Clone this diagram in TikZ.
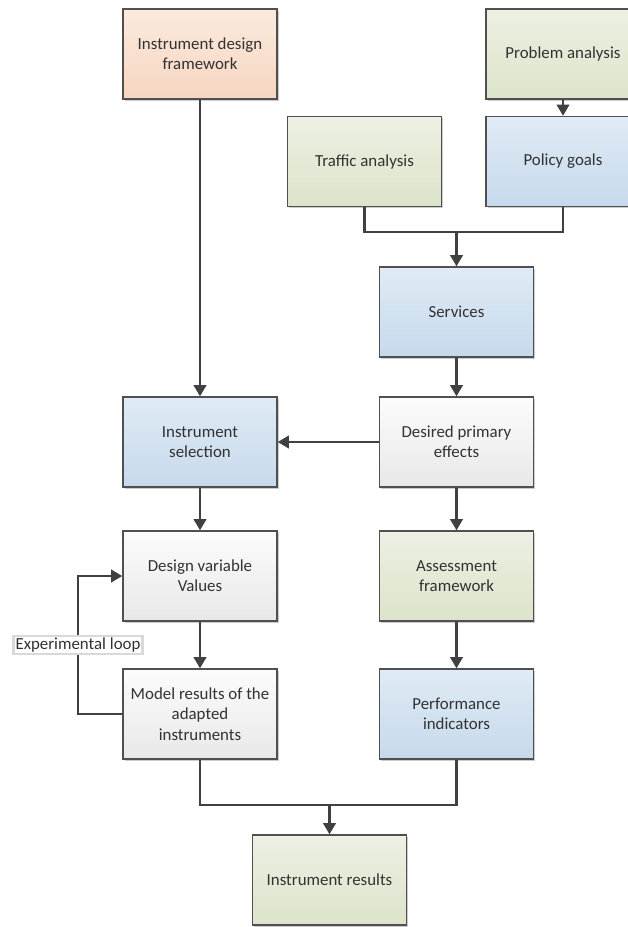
\documentclass[tikz,border=0pt]{standalone}
\usepackage{fontspec}
\setmainfont{Carlito}
\usepackage{xcolor}
\usetikzlibrary{positioning, calc, arrows.meta, shadows}

\definecolor{edgegray}{RGB}{80,80,80}
\definecolor{linegray}{RGB}{64,64,64}
\definecolor{textgray}{RGB}{50,50,50}
\definecolor{orangetop}{RGB}{251,234,222}
\definecolor{orangebot}{RGB}{246,214,192}
\definecolor{greentop}{RGB}{237,240,227}
\definecolor{greenbot}{RGB}{220,228,202}
\definecolor{bluetop}{RGB}{224,235,245}
\definecolor{bluebot}{RGB}{198,217,236}
\definecolor{graytop}{RGB}{252,252,252}
\definecolor{graybot}{RGB}{232,232,232}

\begin{document}
\begin{tikzpicture}[x=0.025cm, y=-0.025cm,
    box/.style={draw=edgegray, line width=1pt, minimum width=3.85cm,
        minimum height=2.25cm, align=center, text=textgray,
        font=\fontsize{12}{14.5}\selectfont,
        drop shadow={shadow xshift=1.2pt, shadow yshift=-1.2pt, fill=black, opacity=0.2}},
    orangebox/.style={box, top color=orangetop, bottom color=orangebot},
    greenbox/.style={box, top color=greentop, bottom color=greenbot},
    bluebox/.style={box, top color=bluetop, bottom color=bluebot},
    graybox/.style={box, top color=graytop, bottom color=graybot},
    link/.style={draw=linegray, line width=1.6pt},
    arrow/.style={link, -{Triangle[width=9pt,length=8pt]}},
    looplabel/.style={draw=black!15, fill=white, inner sep=1.5pt, text=textgray,
        font=\fontsize{12}{14.5}\selectfont}]
    \useasboundingbox (0,0) rectangle (627,927);

    % top row
    \node[orangebox] (design) at (200,54) {Instrument design\\framework};
    \node[greenbox] (problem) at (563,54) {Problem analysis};
    \node[greenbox] (traffic) at (364.5,161.5) {Traffic analysis};
    \node[bluebox] (goals) at (563,161.5) {Policy goals};
    \node[bluebox] (services) at (456.5,312) {Services};

    % middle
    \node[bluebox] (selection) at (200,442) {Instrument\\selection};
    \node[graybox] (effects) at (456.5,442) {Desired primary\\effects};
    \node[graybox] (values) at (200,576) {Design variable\\Values};
    \node[greenbox] (assess) at (456.5,576) {Assessment\\framework};
    \node[graybox] (model) at (200,714) {Model results of the\\adapted\\instruments};
    \node[bluebox] (perf) at (456.5,714) {Performance\\indicators};

    % bottom
    \node[greenbox] (results) at (329.5,880) {Instrument results};

    \coordinate (topjoin) at (456.5,232);
    \coordinate (botjoin) at (329.5,805);
    \coordinate (loopleft) at (78,0);

    \draw[arrow] (problem) -- (goals);
    \draw[link] (traffic.south) |- (topjoin);
    \draw[link] (goals.south) |- (topjoin);
    \draw[arrow] (topjoin) -- (services.north);
    \draw[arrow] (services) -- (effects);
    \draw[arrow] (design) -- (selection);
    \draw[arrow] (effects) -- (selection);
    \draw[arrow] (selection) -- (values);
    \draw[arrow] (effects) -- (assess);
    \draw[arrow] (values) -- (model);
    \draw[arrow] (assess) -- (perf);
    \draw[arrow] (model.west) -- (model.west -| loopleft) -- (values.west -| loopleft)
        node[pos=0.5, looplabel] (looptext) {Experimental loop} -- (values.west);
    \draw[link] (model.south) |- (botjoin);
    \draw[link] (perf.south) |- (botjoin);
    \draw[arrow] (botjoin) -- (results.north);
\end{tikzpicture}
\end{document}
